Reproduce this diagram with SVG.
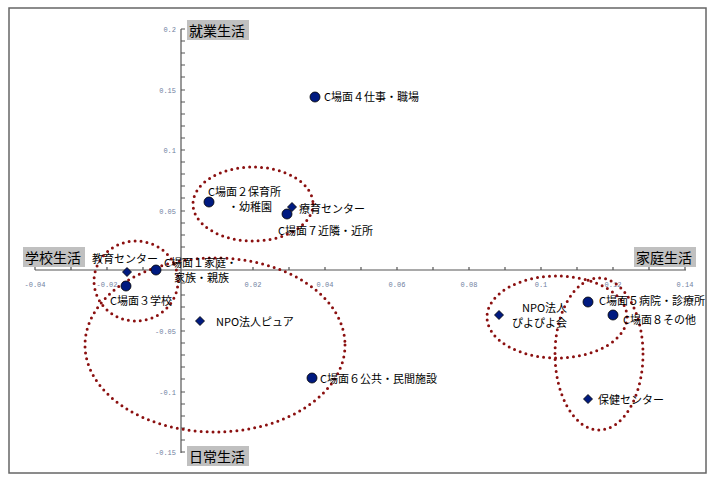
<svg xmlns="http://www.w3.org/2000/svg" width="717" height="489" viewBox="0 0 717 489">
<style>
.t{font-family:"Noto Sans CJK JP","Liberation Sans",sans-serif;font-size:11px;fill:#000}
.ax{font-family:"Noto Sans CJK JP",sans-serif;font-size:14px;fill:#000}
.n{font-family:"Liberation Mono",monospace;font-size:7px;fill:#7080a0}
.e{fill:none;stroke:#8b1010;stroke-width:3;stroke-dasharray:0 6;stroke-linecap:round}
.c{fill:#001a80;stroke:#000;stroke-width:0.8}
</style>
<rect x="0" y="0" width="717" height="489" fill="#fff"/>
<rect x="9" y="8" width="697" height="465" fill="none" stroke="#666" stroke-width="1.5"/>
<g id="axes" stroke="#555" stroke-width="1.2">
<line x1="35" y1="270" x2="686" y2="270"/>
<line x1="181" y1="29" x2="181" y2="453"/>
<path d="M35 270v-3M71 270v-3M107 270v-3M143 270v-3M217 270v-3M253 270v-3M289 270v-3M325 270v-3M361 270v-3M397 270v-3M433 270v-3M469 270v-3M505 270v-3M541 270v-3M577 270v-3M613 270v-3M649 270v-3M685 270v-3"/>
<path d="M181 29h4M181 41h4M181 53h4M181 65h4M181 77h4M181 90h4M181 102h4M181 114h4M181 126h4M181 138h4M181 150h4M181 162h4M181 174h4M181 186h4M181 198h4M181 211h4M181 223h4M181 235h4M181 247h4M181 259h4M181 283h4M181 295h4M181 307h4M181 319h4M181 331h4M181 343h4M181 355h4M181 367h4M181 379h4M181 392h4M181 404h4M181 416h4M181 428h4M181 440h4M181 452h4"/>
</g>
<g id="ticklabels">
<text class="n" x="35" y="287" text-anchor="middle">-0.04</text>
<text class="n" x="107" y="287" text-anchor="middle">-0.02</text>
<text class="n" x="253" y="287" text-anchor="middle">0.02</text>
<text class="n" x="325" y="287" text-anchor="middle">0.04</text>
<text class="n" x="397" y="287" text-anchor="middle">0.06</text>
<text class="n" x="469" y="287" text-anchor="middle">0.08</text>
<text class="n" x="541" y="287" text-anchor="middle">0.1</text>
<text class="n" x="613" y="287" text-anchor="middle">0.12</text>
<text class="n" x="685" y="287" text-anchor="middle">0.14</text>
<text class="n" x="176" y="32" text-anchor="end">0.2</text>
<text class="n" x="176" y="93" text-anchor="end">0.15</text>
<text class="n" x="176" y="153" text-anchor="end">0.1</text>
<text class="n" x="176" y="214" text-anchor="end">0.05</text>
<text class="n" x="176" y="334" text-anchor="end">-0.05</text>
<text class="n" x="176" y="395" text-anchor="end">-0.1</text>
<text class="n" x="176" y="455" text-anchor="end">-0.15</text>
</g>
<g id="axislabels">
<rect x="187" y="20" width="62" height="20" fill="#c0c0c0"/><text class="ax" x="189" y="36">就業生活</text>
<rect x="23" y="247" width="62" height="20" fill="#c0c0c0"/><text class="ax" x="25" y="263">学校生活</text>
<rect x="634" y="247" width="62" height="20" fill="#c0c0c0"/><text class="ax" x="636" y="263">家庭生活</text>
<rect x="187" y="446" width="62" height="20" fill="#c0c0c0"/><text class="ax" x="189" y="462">日常生活</text>
</g>
<g id="connectors">
<ellipse class="e" cx="253" cy="204" rx="60" ry="37"/>
<ellipse class="e" cx="136" cy="281" rx="42" ry="40"/>
<ellipse class="e" cx="215" cy="345" rx="130" ry="87"/>
<ellipse class="e" cx="557" cy="317" rx="70" ry="41"/>
<ellipse class="e" cx="599" cy="354" rx="44" ry="76"/>
</g>
<g id="n4"><circle class="c" cx="315" cy="97" r="5"/><text class="t" x="324" y="101">C場面４仕事・職場</text></g>
<g id="n2"><circle class="c" cx="209" cy="202" r="5"/><text class="t" x="208" y="196">C場面２保育所</text><text class="t" x="228" y="211">・幼稚園</text></g>
<g id="ryoiku"><path class="c" d="M292 202.5l4.5 4.5-4.5 4.5-4.5-4.5z"/><text class="t" x="299" y="213">療育センター</text></g>
<g id="n7"><circle class="c" cx="287" cy="214" r="5"/><text class="t" x="278" y="235">C場面７近隣・近所</text></g>
<g id="kyoiku"><path class="c" d="M127 267.5l4.5 4.5-4.5 4.5-4.5-4.5z"/><text class="t" x="92" y="263">教育センター</text></g>
<g id="n1"><circle class="c" cx="156" cy="270" r="5"/><text class="t" x="164" y="267">C場面１家庭・</text><text class="t" x="174" y="282">家族・親族</text></g>
<g id="n3"><circle class="c" cx="126" cy="286" r="5"/><text class="t" x="110" y="305">C場面３学校</text></g>
<g id="pure"><path class="c" d="M200 316.5l4.5 4.5-4.5 4.5-4.5-4.5z"/><text class="t" x="216" y="326">NPO法人ピュア</text></g>
<g id="n6"><circle class="c" cx="312" cy="378" r="5"/><text class="t" x="320" y="383">C場面６公共・民間施設</text></g>
<g id="piyo"><path class="c" d="M499 310.5l4.5 4.5-4.5 4.5-4.5-4.5z"/><text class="t" x="522" y="312">NPO法人</text><text class="t" x="512" y="327">ぴよぴよ会</text></g>
<g id="n5"><circle class="c" cx="588" cy="302" r="5"/><text class="t" x="599" y="305">C場面５病院・診療所</text></g>
<g id="n8"><circle class="c" cx="613" cy="315" r="5"/><text class="t" x="623" y="324">C場面８その他</text></g>
<g id="hoken"><path class="c" d="M588 394.5l4.5 4.5-4.5 4.5-4.5-4.5z"/><text class="t" x="598" y="404">保健センター</text></g>
</svg>
